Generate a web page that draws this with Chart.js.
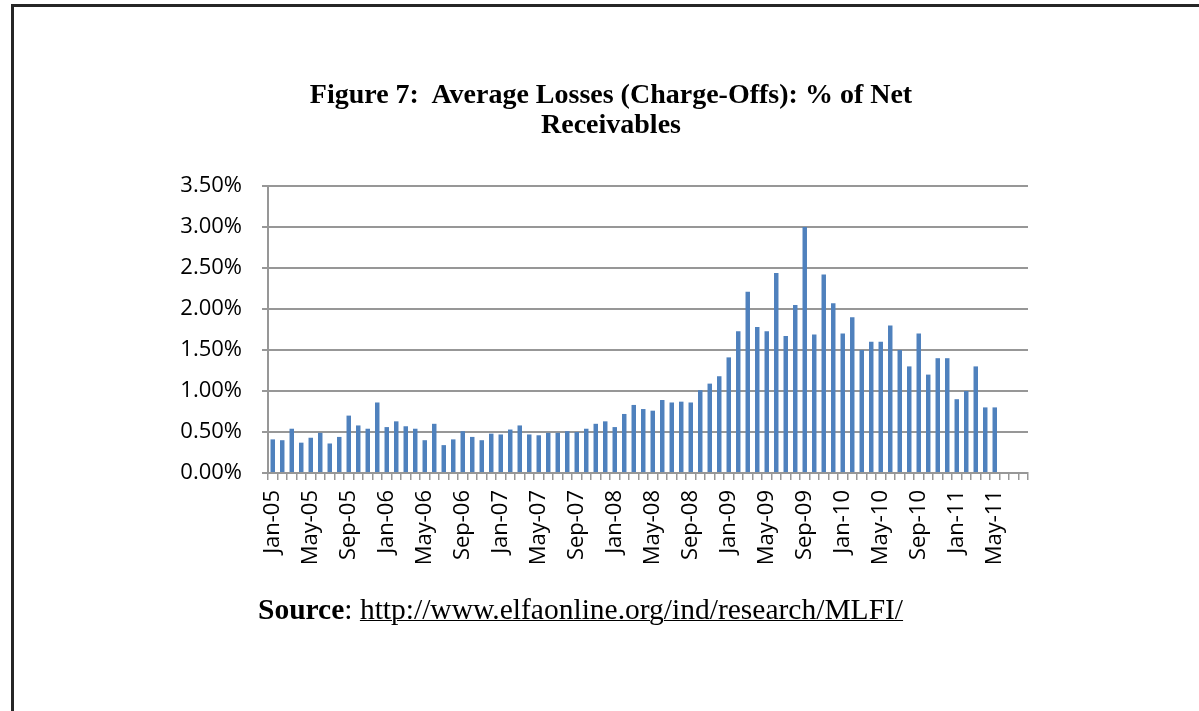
<!DOCTYPE html>
<html>
<head>
<meta charset="utf-8">
<script src="https://cdn.jsdelivr.net/npm/chart.js@4.4.1/dist/chart.umd.min.js"></script>
<style>
  html, body { margin: 0; padding: 0; background: #fff; }
  #page { position: relative; width: 1199px; height: 711px; overflow: hidden; background: #fff; }
  #frame { position: absolute; left: 11px; top: 4px; right: -10px; bottom: -10px;
           border-top: 3px solid #262626; border-left: 3px solid #262626; }
  #chart { position: absolute; left: 0; top: 0; }
  .title { position: absolute; left: 261px; width: 700px; text-align: center; top: 79px;
           font-family: "Liberation Serif", "Times New Roman", serif; font-weight: bold;
           font-size: 28px; line-height: 30px; color: #000; white-space: nowrap; }
  .source { position: absolute; left: 258px; top: 593px;
            font-family: "Liberation Serif", "Times New Roman", serif;
            font-size: 29.5px; line-height: 32px; color: #000; white-space: nowrap; }
  .source b { font-weight: bold; }
  .source u { text-decoration: underline; text-decoration-thickness: 1px; }
</style>
</head>
<body>
<div id="page">
  <div id="frame"></div>
  <canvas id="chart" width="1199" height="711"></canvas>
  <div class="title">Figure 7:&nbsp; Average Losses (Charge-Offs): % of Net<br>Receivables</div>
  <div class="source"><b>Source</b>: <u>http://www.elfaonline.org/ind/research/MLFI/</u></div>
</div>
<script>
// Monthly categories, Jan-05 through Aug-11
const monthNames = ['Jan','Feb','Mar','Apr','May','Jun','Jul','Aug','Sep','Oct','Nov','Dec'];
const years = ['05','06','07','08','09','10','11'];
const lastMonthIndexOf2011 = 7; // Aug-11 closes the axis

// Average losses (charge-offs), % of net receivables, by year
const losses2005 = [0.41, 0.40, 0.54, 0.37, 0.43, 0.49, 0.36, 0.44, 0.70, 0.58, 0.54, 0.86];
const losses2006 = [0.56, 0.63, 0.57, 0.54, 0.40, 0.60, 0.34, 0.41, 0.51, 0.44, 0.40, 0.48];
const losses2007 = [0.47, 0.53, 0.58, 0.47, 0.46, 0.49, 0.49, 0.51, 0.50, 0.54, 0.60, 0.63];
const losses2008 = [0.56, 0.72, 0.83, 0.78, 0.76, 0.89, 0.86, 0.87, 0.86, 1.01, 1.09, 1.18];
const losses2009 = [1.41, 1.73, 2.21, 1.78, 1.73, 2.44, 1.67, 2.05, 3.00, 1.69, 2.42, 2.07];
const losses2010 = [1.70, 1.90, 1.50, 1.60, 1.60, 1.80, 1.50, 1.30, 1.70, 1.20, 1.40, 1.40];
const losses2011 = [0.90, 1.00, 1.30, 0.80, 0.80, null, null, null];

// Y axis ticks (percent)
const yTicks = [0, 0.5, 1.0, 1.5, 2.0, 2.5, 3.0, 3.5];

const categories = [];
years.forEach((y, yi) => {
  const count = (yi === years.length - 1) ? lastMonthIndexOf2011 + 1 : 12;
  for (let m = 0; m < count; m++) categories.push(monthNames[m] + '-' + y);
});
const losses = [].concat(losses2005, losses2006, losses2007, losses2008, losses2009, losses2010, losses2011);

const gridGrey = '#979797';
const tickFont = { family: '"Open Sans", "Liberation Sans", sans-serif', size: 22 };

new Chart(document.getElementById('chart'), {
  type: 'bar',
  data: {
    labels: categories,
    datasets: [{
      label: 'Average Losses',
      data: losses,
      backgroundColor: '#4f81bd',
      borderWidth: 0,
      barPercentage: 0.47,
      categoryPercentage: 1.0
    }]
  },
  options: {
    responsive: false,
    animation: false,
    events: [],
    layout: { padding: { left: 0, top: 186, right: 171, bottom: 128 } },
    plugins: { legend: { display: false }, tooltip: { enabled: false }, title: { display: false } },
    scales: {
      x: {
        offset: true,
        afterFit: (s) => { s.height = 110; },
        grid: {
          offset: true,
          drawOnChartArea: false,
          drawTicks: true,
          tickLength: 7,
          color: gridGrey,
          lineWidth: 1.5
        },
        border: { display: true, color: gridGrey, width: 2 },
        ticks: {
          autoSkip: false,
          maxRotation: 90,
          minRotation: 90,
          padding: 10,
          color: '#000',
          font: tickFont,
          callback: function (value, index) {
            return index % 4 === 0 ? this.getLabelForValue(value) : '';
          }
        }
      },
      y: {
        min: yTicks[0],
        max: yTicks[yTicks.length - 1],
        afterFit: (s) => { s.width = 268; },
        afterBuildTicks: (s) => { s.ticks = yTicks.map(v => ({ value: v })); },
        grid: {
          color: gridGrey,
          lineWidth: 2,
          drawTicks: true,
          tickLength: 6
        },
        border: { display: true, color: gridGrey, width: 2 },
        ticks: {
          padding: 20,
          color: '#000',
          font: tickFont,
          callback: (v) => Number(v).toFixed(2) + '%'
        }
      }
    }
  }
});
</script>
</body>
</html>
